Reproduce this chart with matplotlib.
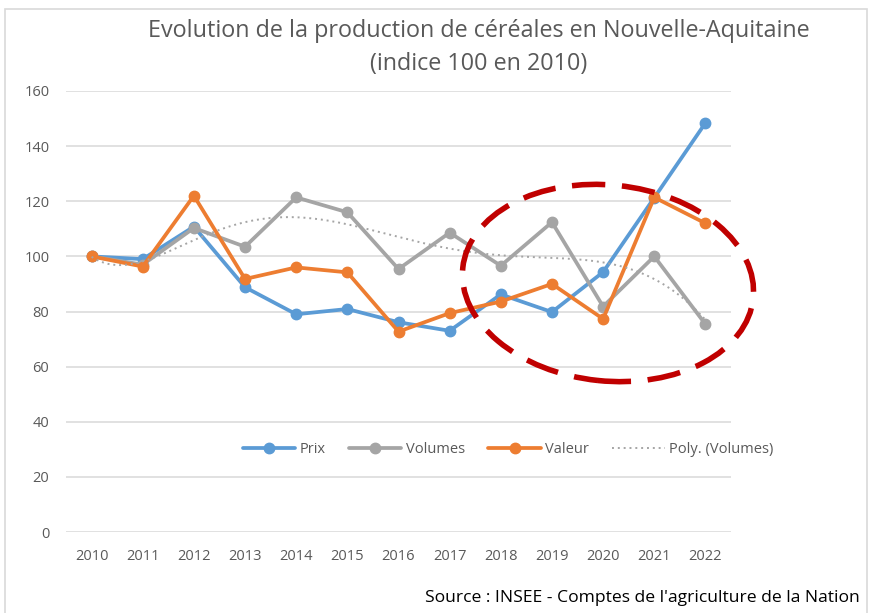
import numpy as np
import matplotlib
matplotlib.use("Agg")
import matplotlib.pyplot as plt
from matplotlib.patches import Ellipse, Rectangle
from matplotlib.transforms import IdentityTransform

plt.rcParams['font.family'] = ['Open Sans', 'DejaVu Sans']

years = ['2010', '2011', '2012', '2013', '2014', '2015', '2016', '2017',
         '2018', '2019', '2020', '2021', '2022']
prix = [100, 99, 110.8, 88.8, 79, 80.9, 76.1, 73, 86.2, 79.8, 94.3, 121.3, 148.4]
volumes = [100, 97, 110.3, 103.5, 121.4, 116, 95.4, 108.6, 96.6, 112.4, 81.8, 100, 75.4]
valeur = [100, 96.3, 122, 91.8, 96, 94.2, 72.7, 79.4, 83.6, 90, 77.3, 121.4, 112]
yticks = [0, 20, 40, 60, 80, 100, 120, 140, 160]

W, H = 869, 613
fig = plt.figure(figsize=(W / 100, H / 100), dpi=100)
fig.patch.set_facecolor('white')

# chart border
fig.patches.append(Rectangle((5 / W, -0.05), 862 / W, 1.05 - 9 / H,
                             transform=fig.transFigure, fill=False,
                             edgecolor='#D9D9D9', linewidth=1.2))

ax = fig.add_axes([66 / W, 1 - 532 / H, 665 / W, 441 / H])
x = np.arange(len(years))

blue, grey, orange = '#5B9BD5', '#A5A5A5', '#ED7D31'
lw, ms = 2.7, 7.5
ax.plot(x, prix, color=blue, lw=lw, marker='o', ms=ms, label='Prix', zorder=3,
        solid_capstyle='round')
ax.plot(x, volumes, color=grey, lw=lw, marker='o', ms=ms, label='Volumes', zorder=4,
        solid_capstyle='round')
ax.plot(x, valeur, color=orange, lw=lw, marker='o', ms=ms, label='Valeur', zorder=5,
        solid_capstyle='round')

# polynomial trendline of volumes
coef = np.polyfit(x, volumes, 6)
xs = np.linspace(0, len(years) - 1, 300)
ax.plot(xs, np.polyval(coef, xs), color=grey, lw=1.4, ls=(0, (1, 2)),
        label='Poly. (Volumes)', zorder=6)

ax.set_xlim(-0.5, len(years) - 0.5)
ax.set_ylim(0, 160)
ax.set_yticks(yticks)
ax.set_xticks(x)
ax.set_xticklabels(years)
ax.grid(axis='y', color='#D9D9D9', lw=1.1)
ax.set_axisbelow(True)
for s in ax.spines.values():
    s.set_visible(False)
ax.tick_params(length=0, labelcolor='#595959', labelsize=10.5)
ax.tick_params(axis='x', pad=12)
ax.tick_params(axis='y', pad=12)

leg = ax.legend(loc='center', bbox_to_anchor=(0.665, 0.186), ncol=4, frameon=False,
                fontsize=10.5, handlelength=3.6, columnspacing=1.6, handletextpad=0.3,
                labelcolor='#595959')

fig.text(479 / W, 1 - 31 / H, 'Evolution de la production de céréales en Nouvelle-Aquitaine',
         ha='center', va='center', fontsize=16.8, color='#595959')
fig.text(479 / W, 1 - 64 / H, '(indice 100 en 2010)',
         ha='center', va='center', fontsize=16.8, color='#595959')

fig.text(860 / W, 1 - 598 / H, "Source : INSEE - Comptes de l'agriculture de la Nation",
         ha='right', va='center', fontsize=12.6, color='black')

# red dashed ellipse (annotation)
ell = Ellipse((608, H - 283), 292, 196, angle=-6, transform=IdentityTransform(),
              fill=False, edgecolor='#C00000', lw=4, ls=(0, (6, 3)), zorder=10)
fig.patches.append(ell)

fig.savefig('out.png', dpi=100)
